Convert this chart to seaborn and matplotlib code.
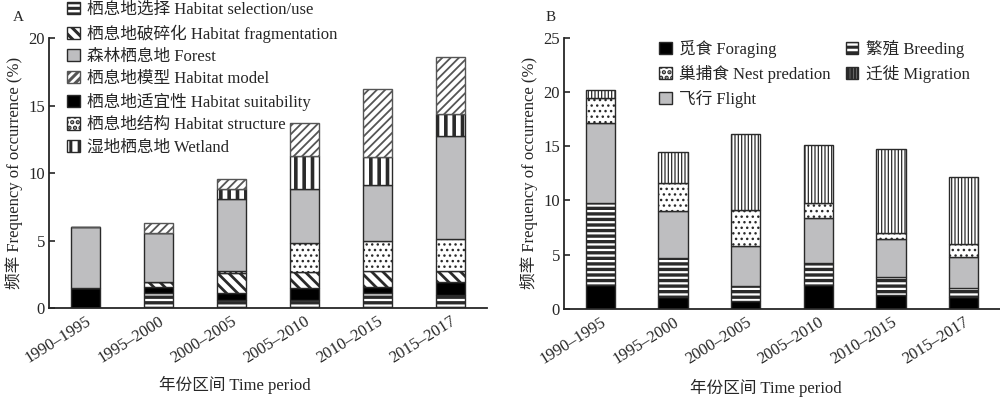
# Frequency of occurrence of habitat (A) and behaviour (B) topics per time period
import numpy as np
import matplotlib
matplotlib.use('Agg')
import matplotlib.pyplot as plt
from matplotlib.patches import Patch
import seaborn as sns

periods = ['1990–1995', '1995–2000', '2000–2005', '2005–2010', '2010–2015', '2015–2017']

# ---- panel A, segment heights, stack order bottom -> top
a_selection = [0.0, 1.10, 0.59, 0.59, 1.10, 0.97]
a_suitability = [1.48, 0.48, 0.54, 0.87, 0.48, 0.98]
a_fragmentation = [0.0, 0.35, 1.44, 1.23, 1.19, 0.82]
a_structure = [0.0, 0.0, 0.20, 2.10, 2.17, 2.32]
a_forest = [4.50, 3.60, 5.33, 4.00, 4.15, 7.65]
a_wetland = [0.0, 0.0, 0.74, 2.47, 2.07, 1.63]
a_model = [0.0, 0.74, 0.69, 2.47, 5.04, 4.20]

# ---- panel B
b_foraging = [2.24, 1.14, 0.70, 2.24, 1.32, 1.14]
b_breeding = [7.50, 3.55, 1.44, 2.02, 1.58, 0.76]
b_flight = [7.43, 4.37, 3.66, 4.11, 3.52, 2.89]
b_nest = [2.24, 2.52, 3.29, 1.39, 0.55, 1.17]
b_migration = [0.77, 2.92, 7.01, 5.36, 7.74, 6.17]

sns.set_style('ticks')
plt.rcParams['font.family'] = ['Liberation Serif', 'Noto Sans CJK SC']
plt.rcParams['hatch.linewidth'] = 2.2
plt.rcParams['axes.linewidth'] = 1.3

GRAY = '#bebec0'
EDGE = '#2a2a2a'

# (label, values, facecolor, hatch, hatch linewidth, edge colour)
layers_a = [
    ('栖息地选择 Habitat selection/use', a_selection, 'white', '---', 2.4, EDGE),
    ('栖息地适宜性 Habitat suitability', a_suitability, 'black', None, 1.0, EDGE),
    ('栖息地破碎化 Habitat fragmentation', a_fragmentation, 'white', '\\\\\\', 2.0, EDGE),
    ('栖息地结构 Habitat structure', a_structure, 'white', '...', 1.0, EDGE),
    ('森林栖息地 Forest', a_forest, GRAY, None, 1.0, EDGE),
    ('湿地栖息地 Wetland', a_wetland, 'white', '||', 2.6, EDGE),
    ('栖息地模型 Habitat model', a_model, 'white', '////', 1.3, '#555555'),
]
legend_order_a = [0, 2, 4, 6, 1, 3, 5]

layers_b = [
    ('觅食 Foraging', b_foraging, 'black', None, 1.0, EDGE),
    ('繁殖 Breeding', b_breeding, 'white', '---', 2.4, EDGE),
    ('飞行 Flight', b_flight, GRAY, None, 1.0, EDGE),
    ('巢捕食 Nest predation', b_nest, 'white', '...', 1.0, EDGE),
    ('迁徙 Migration', b_migration, 'white', '|||||', 0.9, EDGE),
]
legend_order_b = [0, 3, 2, 1, 4]

fig = plt.figure(figsize=(10, 3.97), dpi=100)
ax_a = fig.add_axes([0.049, 0.224, 0.438, 0.680])
ax_b = fig.add_axes([0.564, 0.222, 0.436, 0.683])


def stack(ax, layers):
    bottom = np.zeros(len(periods))
    handles = []
    for label, vals, fc, hatch, hlw, ec in layers:
        vals = np.asarray(vals, dtype=float)
        n_before = len(ax.patches)
        sns.barplot(x=periods, y=vals, bottom=bottom, color=fc, width=0.4,
                    edgecolor=ec, linewidth=1.0, hatch=hatch, ax=ax,
                    saturation=1)
        for p in ax.patches[n_before:]:
            p.set_facecolor(fc)
            if hatch and hasattr(p, 'set_hatch_linewidth'):
                p.set_hatch_linewidth(hlw)
        h = Patch(facecolor=fc, edgecolor=ec, hatch=hatch, linewidth=1.0, label=label)
        if hatch and hasattr(h, 'set_hatch_linewidth'):
            h.set_hatch_linewidth(min(hlw, 1.6))
        handles.append(h)
        bottom = bottom + vals
    return handles


handles_a = stack(ax_a, layers_a)
handles_b = stack(ax_b, layers_b)

for ax, top in [(ax_a, 20), (ax_b, 25)]:
    ax.set_xlim(-0.5, 5.5)
    ax.set_ylim(0, top)
    ax.set_yticks(np.arange(0, top + 1, 5))
    sns.despine(ax=ax)
    ax.tick_params(axis='y', direction='in', length=4, width=1.2, labelsize=12, pad=3)
    ax.tick_params(axis='x', length=0, labelsize=12, pad=4)
    ax.set_xticks(range(len(periods)))
    ax.set_xticklabels(periods, rotation=32, ha='right', rotation_mode='anchor')
    ax.set_ylabel('频率 Frequency of occurrence (%)', fontsize=12, labelpad=4)
    ax.set_xlabel('年份区间 Time period', fontsize=12)

ax_a.xaxis.set_label_coords((235 - 49) / 438, -0.25)
ax_b.xaxis.set_label_coords((766 - 564) / 436, -0.26)

ax_a.legend([handles_a[i] for i in legend_order_a], [layers_a[i][0] for i in legend_order_a],
            loc='upper left', bbox_to_anchor=(0.057, 1.02), bbox_transform=fig.transFigure,
            frameon=False, fontsize=12, borderpad=0.1, labelspacing=0.37,
            handlelength=0.75, handleheight=0.75, handletextpad=0.45)
ax_b.legend([handles_b[i] for i in legend_order_b], [layers_b[i][0] for i in legend_order_b],
            loc='upper left', bbox_to_anchor=(0.649, 0.925), bbox_transform=fig.transFigure,
            frameon=False, fontsize=12, ncol=2, borderpad=0.1, labelspacing=0.42,
            handlelength=0.75, handleheight=0.75, handletextpad=0.45, columnspacing=0.9)

fig.text(0.013, 0.955, 'A', fontsize=11, va='center')
fig.text(0.546, 0.955, 'B', fontsize=11, va='center')

fig.savefig('out.png', dpi=100)
